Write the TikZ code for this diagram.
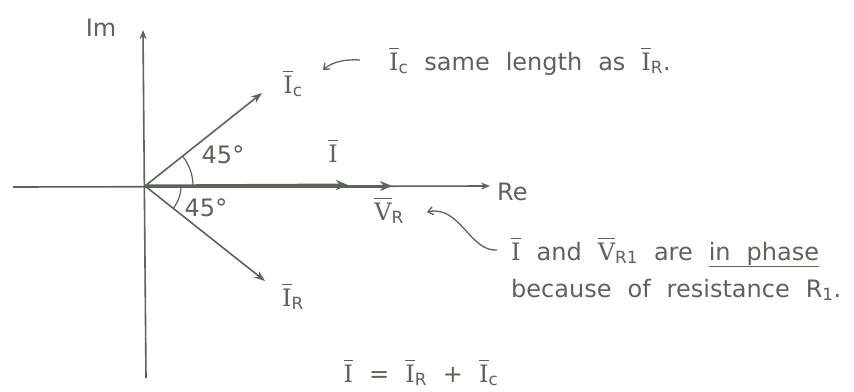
\documentclass[tikz,border=0pt]{standalone}
\usepackage{fontspec}
\setmainfont{DejaVu Sans}
\newfontfamily\letterfont{DejaVu Serif}
\usetikzlibrary{arrows.meta,calc}
\definecolor{ink}{HTML}{5A6457}
\newcommand{\vb}[1]{$\overline{\mbox{\rule{0pt}{0.86em}\letterfont #1}}$}
\newcommand{\mysub}[1]{\textsubscript{#1}}
\newcommand{\handfont}{\fontsize{24}{28}\selectfont\spaceskip=16pt plus 2pt\relax}
\begin{document}
\begin{tikzpicture}[x=1pt,y=-1pt,
  lbl/.style={inner sep=1pt,text=ink,font=\handfont,anchor=base},
  axis/.style={draw=ink,line width=1.6pt,-{Stealth[length=9pt,width=7pt]}},
  vec/.style={draw=ink,line width=1.6pt,-{Stealth[length=11pt,width=8pt]}},
  thickvec/.style={draw=ink,line width=3pt,-{Stealth[length=12pt,width=10pt]}},
  note/.style={draw=ink,line width=1.3pt,-{Straight Barb[length=5pt,width=8pt]}}]
\useasboundingbox (0,0) rectangle (854,391);
\coordinate (O) at (145,186);
\coordinate (ybot) at (146,378);
\coordinate (ytop) at (143,30);
\coordinate (xleft) at (13,187);
\coordinate (xright) at (490,186);
\coordinate (ICt) at (262,93);
\coordinate (IRt) at (265,281);
\coordinate (It) at (348,185);
\coordinate (VRt) at (392,186);
% axes
\draw[axis] (ybot) -- (ytop);
\draw[axis] (xleft) -- (xright);
\node[lbl] (Im) at (101,36) {Im};
\node[lbl,anchor=base west] (Re) at (496,200) {Re};
% vectors
\draw[vec] (O) -- (ICt);
\draw[vec] (O) -- (IRt);
\draw[thickvec] (O) -- (VRt);
\draw[thickvec] (O) -- (It);
% angle arcs
\draw[ink,line width=1.2pt] ($(O)+(48,0)$) arc[start angle=0,end angle=-38,radius=48];
\draw[ink,line width=1.2pt] ($(O)+(36,0)$) arc[start angle=0,end angle=38,radius=36];
\node[lbl] (a1) at (223,163) {45°};
\node[lbl] (a2) at (206,216) {45°};
% labels
\node[lbl] (IC) at (293,93) {\vb{I}\mysub{c}};
\node[lbl] (IR) at (293,306) {\vb{I}\mysub{R}};
\node[lbl] (I) at (333,162) {\vb{I}};
\node[lbl] (VR) at (389,220) {\vb{V}\mysub{R}};
% note 1
\node[lbl,anchor=base west] (n1) at (388,70) {\vb{I}\mysub{c} same length as \vb{I}\mysub{R}.};
\coordinate (n1s) at (360,60);
\coordinate (n1e) at (323,70);
\draw[note] (n1s) .. controls (345,59) and (332,62) .. (n1e);
% note 2
\node[lbl,anchor=base west] (n2) at (510,260) {\vb{I} and \vb{V}\mysub{R1} are \underline{in phase}};
\node[lbl,anchor=base west] (n3) at (510,297) {because of resistance R\mysub{1}.};
\coordinate (n2s) at (497,250);
\coordinate (n2e) at (427,212);
\draw[note] (n2s) .. controls (470,252) and (460,205) .. (n2e);
% equation
\node[lbl] (eq) at (421,382) {\vb{I} = \vb{I}\mysub{R} + \vb{I}\mysub{c}};
\end{tikzpicture}
\end{document}
